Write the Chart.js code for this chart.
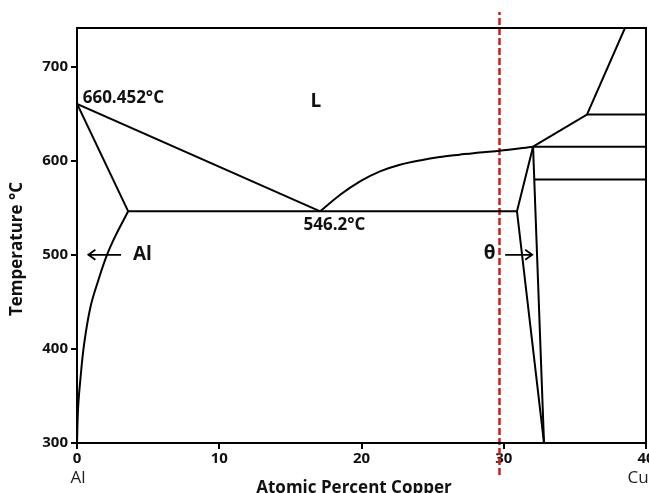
<!DOCTYPE html>
<html>
<head>
<meta charset="utf-8">
<script src="https://cdn.jsdelivr.net/npm/chart.js@4.4.1/dist/chart.umd.min.js"></script>
<style>
  html, body { margin: 0; padding: 0; background: #fff; }
  #wrap { width: 649px; height: 493px; }
</style>
</head>
<body>
<div id="wrap"><canvas id="phaseChart" width="649" height="493"></canvas></div>
<script>
// Al-Cu phase diagram (Al rich side)

const xTicks = [0, 10, 20, 30, 40];
const yTicks = [300, 400, 500, 600, 700];

// liquidus, Al side
const liqAlX = [0, 17.1];
const liqAlT = [660.452, 546.2];

// liquidus, theta side
const liqThX = [17.1, 18.5, 19.9, 21.3, 22.7, 24.1, 25.5, 26.9, 28.3, 29.7, 32.06];
const liqThT = [546.2, 563.8, 578, 588.6, 595.7, 600.3, 603.9, 606.4, 608.8, 610.6, 614.9];

// solidus of Al
const solAlX = [0, 3.6];
const solAlT = [660.452, 546.2];

// solvus of Al
const solvAlX = [3.6, 2.81, 2.11, 1.5, 0.95, 0.5, 0.24, 0.08, 0];
const solvAlT = [546.2, 523.4, 500, 473, 444.7, 405, 368, 338, 300];

// eutectic line
const eutX = [3.6, 30.93];
const eutT = [546.2, 546.2];

// theta phase, left boundary
const thLeftX = [32.06, 30.93, 32.83];
const thLeftT = [614.9, 546.2, 300];

// theta phase, right boundary
const thRightX = [32.06, 32.83];
const thRightT = [614.9, 300];

// liquidus above theta
const liqHiX = [32.06, 35.85, 38.52];
const liqHiT = [614.9, 649, 741];

// horizontal lines on the right
const hLinesX = [[35.85, 40], [32.06, 40], [32.14, 40]];
const hLinesT = [649, 614.9, 580];

// red composition marker
const markX = 29.7;
const markT = [266, 758];

function pts(xs, ts) {
    return xs.map((x, i) => ({ x: x, y: ts[i] }));
}

function blackLine(data, tension) {
    return {
        data: data,
        borderColor: '#000',
        borderWidth: 2,
        pointRadius: 0,
        showLine: true,
        fill: false,
        tension: tension || 0
    };
}

const datasets = [
    blackLine(pts(liqAlX, liqAlT)),
    blackLine(pts(liqThX, liqThT), 0.3),
    blackLine(pts(solAlX, solAlT)),
    blackLine(pts(solvAlX, solvAlT), 0.4),
    blackLine(pts(eutX, eutT)),
    blackLine(pts(thLeftX, thLeftT)),
    blackLine(pts(thRightX, thRightT)),
    blackLine(pts(liqHiX, liqHiT))
];
hLinesX.forEach((xs, i) => {
    datasets.push(blackLine(pts(xs, [hLinesT[i], hLinesT[i]])));
});
datasets.push({
    data: pts([markX, markX], markT),
    borderColor: '#d01c1c',
    borderWidth: 2.5,
    borderDash: [7, 3],
    pointRadius: 0,
    showLine: true,
    clip: false
});

const FONT = "'Open Sans', 'DejaVu Sans', sans-serif";

function arrow(ctx, x1, y, x2) {
    const dir = x2 > x1 ? 1 : -1;
    ctx.beginPath();
    ctx.moveTo(x1, y);
    ctx.lineTo(x2, y);
    ctx.moveTo(x2 - dir * 7, y - 5);
    ctx.lineTo(x2, y);
    ctx.lineTo(x2 - dir * 7, y + 5);
    ctx.stroke();
}

// frame, labels and arrows
const decor = {
    id: 'decor',
    afterDatasetsDraw(chart) {
        const ctx = chart.ctx;
        const a = chart.chartArea;
        const xs = chart.scales.x;
        const ys = chart.scales.y;
        ctx.save();
        ctx.strokeStyle = '#000';
        ctx.lineWidth = 2;
        ctx.strokeRect(a.left, a.top, a.right - a.left, a.bottom - a.top);

        ctx.fillStyle = '#111';
        ctx.textBaseline = 'middle';
        ctx.font = 'bold 17px ' + FONT;
        ctx.textAlign = 'left';
        ctx.fillText('660.452°C', xs.getPixelForValue(0.4), ys.getPixelForValue(666));
        ctx.textAlign = 'center';
        ctx.fillText('546.2°C', xs.getPixelForValue(18.1), ys.getPixelForValue(531));
        ctx.font = 'bold 19px ' + FONT;
        ctx.fillText('L', xs.getPixelForValue(16.8), ys.getPixelForValue(663));
        ctx.fillText('Al', xs.getPixelForValue(4.6), ys.getPixelForValue(500));
        ctx.fillText('θ', xs.getPixelForValue(29.0), ys.getPixelForValue(501));

        ctx.lineWidth = 1.8;
        arrow(ctx, xs.getPixelForValue(3.1), ys.getPixelForValue(500), xs.getPixelForValue(0.8));
        arrow(ctx, xs.getPixelForValue(30.1), ys.getPixelForValue(500), xs.getPixelForValue(32.0));

        ctx.font = '17px ' + FONT;
        ctx.fillStyle = '#222';
        ctx.textAlign = 'center';
        ctx.fillText('Al', xs.getPixelForValue(0) + 1, 478);
        ctx.fillText('Cu', xs.getPixelForValue(40) - 8, 478);

        ctx.fillStyle = '#111';
        ctx.font = 'bold 17px ' + FONT;
        ctx.fillText('Atomic Percent Copper', 354, 488);
        ctx.translate(17, 249);
        ctx.rotate(-Math.PI / 2);
        ctx.fillText('Temperature °C', 0, 0);
        ctx.restore();
    }
};

new Chart(document.getElementById('phaseChart'), {
    type: 'scatter',
    data: { datasets: datasets },
    plugins: [decor],
    options: {
        responsive: false,
        animation: false,
        layout: {
            autoPadding: false,
            padding: { top: 28, right: 3, left: 0, bottom: 0 }
        },
        plugins: {
            legend: { display: false },
            tooltip: { enabled: false }
        },
        scales: {
            x: {
                type: 'linear',
                min: 0,
                max: 40,
                afterBuildTicks: (s) => { s.ticks = xTicks.map(v => ({ value: v })); },
                afterFit: (s) => { s.height = 50; s.paddingLeft = 0; s.paddingRight = 0; },
                grid: { drawOnChartArea: false, tickLength: 6, color: '#000', lineWidth: 2 },
                border: { display: true, color: '#000', width: 2 },
                ticks: {
                    color: '#111',
                    padding: 1,
                    maxRotation: 0,
                    font: { family: FONT, size: 15, weight: 'bold' }
                }
            },
            y: {
                type: 'linear',
                min: 300,
                max: 741,
                afterBuildTicks: (s) => { s.ticks = yTicks.map(v => ({ value: v })); },
                afterFit: (s) => { s.width = 77; s.paddingTop = 0; s.paddingBottom = 0; },
                grid: { drawOnChartArea: false, tickLength: 6, color: '#000', lineWidth: 2 },
                border: { display: true, color: '#000', width: 2 },
                ticks: {
                    color: '#111',
                    padding: 3,
                    font: { family: FONT, size: 15, weight: 'bold' }
                }
            }
        }
    }
});
</script>
</body>
</html>
